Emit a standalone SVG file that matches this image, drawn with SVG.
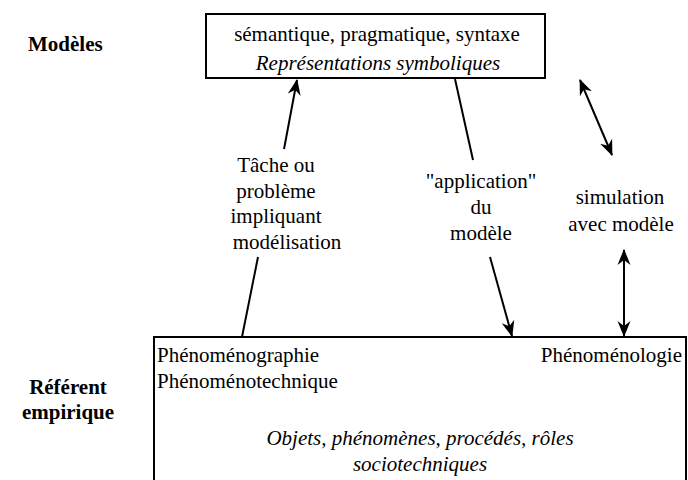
<svg xmlns="http://www.w3.org/2000/svg" width="688" height="480" viewBox="0 0 688 480">
<defs>
<marker id="ah" viewBox="0 0 16 14" refX="15" refY="7" markerWidth="16" markerHeight="14" markerUnits="userSpaceOnUse" orient="auto-start-reverse">
<path d="M0,0.5 L16,7 L0,13.5 L5,7 z" fill="#000"/>
</marker>
<style>
.t{font-family:"Liberation Serif","Times New Roman",serif;font-size:21px;fill:#000}
.b{font-weight:bold}
.i{font-style:italic}
.c{text-anchor:middle}
.box{fill:#fff;stroke:#000;stroke-width:2}
.ln{fill:none;stroke:#000;stroke-width:2}
</style>
</defs>
<rect width="688" height="480" fill="#fff"/>
<g id="label-modeles"><text class="t b" x="28" y="51">Modèles</text></g>
<g id="label-referent">
<text class="t b c" x="68" y="394">Référent</text>
<text class="t b c" x="68" y="419">empirique</text>
</g>
<g id="box-modeles">
<rect class="box" x="206" y="14" width="339" height="64"/>
<text class="t c" x="377" y="41">sémantique, pragmatique, syntaxe</text>
<text class="t i c" x="378" y="70">Représentations symboliques</text>
</g>
<g id="box-referent">
<rect class="box" x="154" y="337" width="532" height="160"/>
<text class="t" x="157" y="362">Phénoménographie</text>
<text class="t" x="157" y="388">Phénoménotechnique</text>
<text class="t" x="682" y="362" text-anchor="end">Phénoménologie</text>
<text class="t i c" x="420" y="445">Objets, phénomènes, procédés, rôles</text>
<text class="t i c" x="420" y="471">sociotechniques</text>
</g>
<g id="label-tache">
<text class="t c" x="276" y="172">Tâche ou</text>
<text class="t c" x="276" y="198">problème</text>
<text class="t c" x="276" y="223">impliquant</text>
<text class="t c" x="287" y="249">modélisation</text>
</g>
<g id="label-application">
<text class="t c" x="481" y="188">"application"</text>
<text class="t c" x="481" y="214">du</text>
<text class="t c" x="481" y="240">modèle</text>
</g>
<g id="label-simulation">
<text class="t c" x="620" y="204">simulation</text>
<text class="t c" x="621" y="231">avec modèle</text>
</g>
<g id="connectors">
<line class="ln" x1="284" y1="149" x2="297" y2="80" marker-end="url(#ah)"/>
<line class="ln" x1="242" y1="337" x2="258" y2="257"/>
<line class="ln" x1="455" y1="79" x2="473" y2="160"/>
<line class="ln" x1="490" y1="257" x2="512" y2="336" marker-end="url(#ah)"/>
<line class="ln" x1="580" y1="80" x2="612" y2="155" marker-start="url(#ah)" marker-end="url(#ah)"/>
<line class="ln" x1="624" y1="250" x2="624" y2="336" marker-start="url(#ah)" marker-end="url(#ah)"/>
</g>
</svg>
